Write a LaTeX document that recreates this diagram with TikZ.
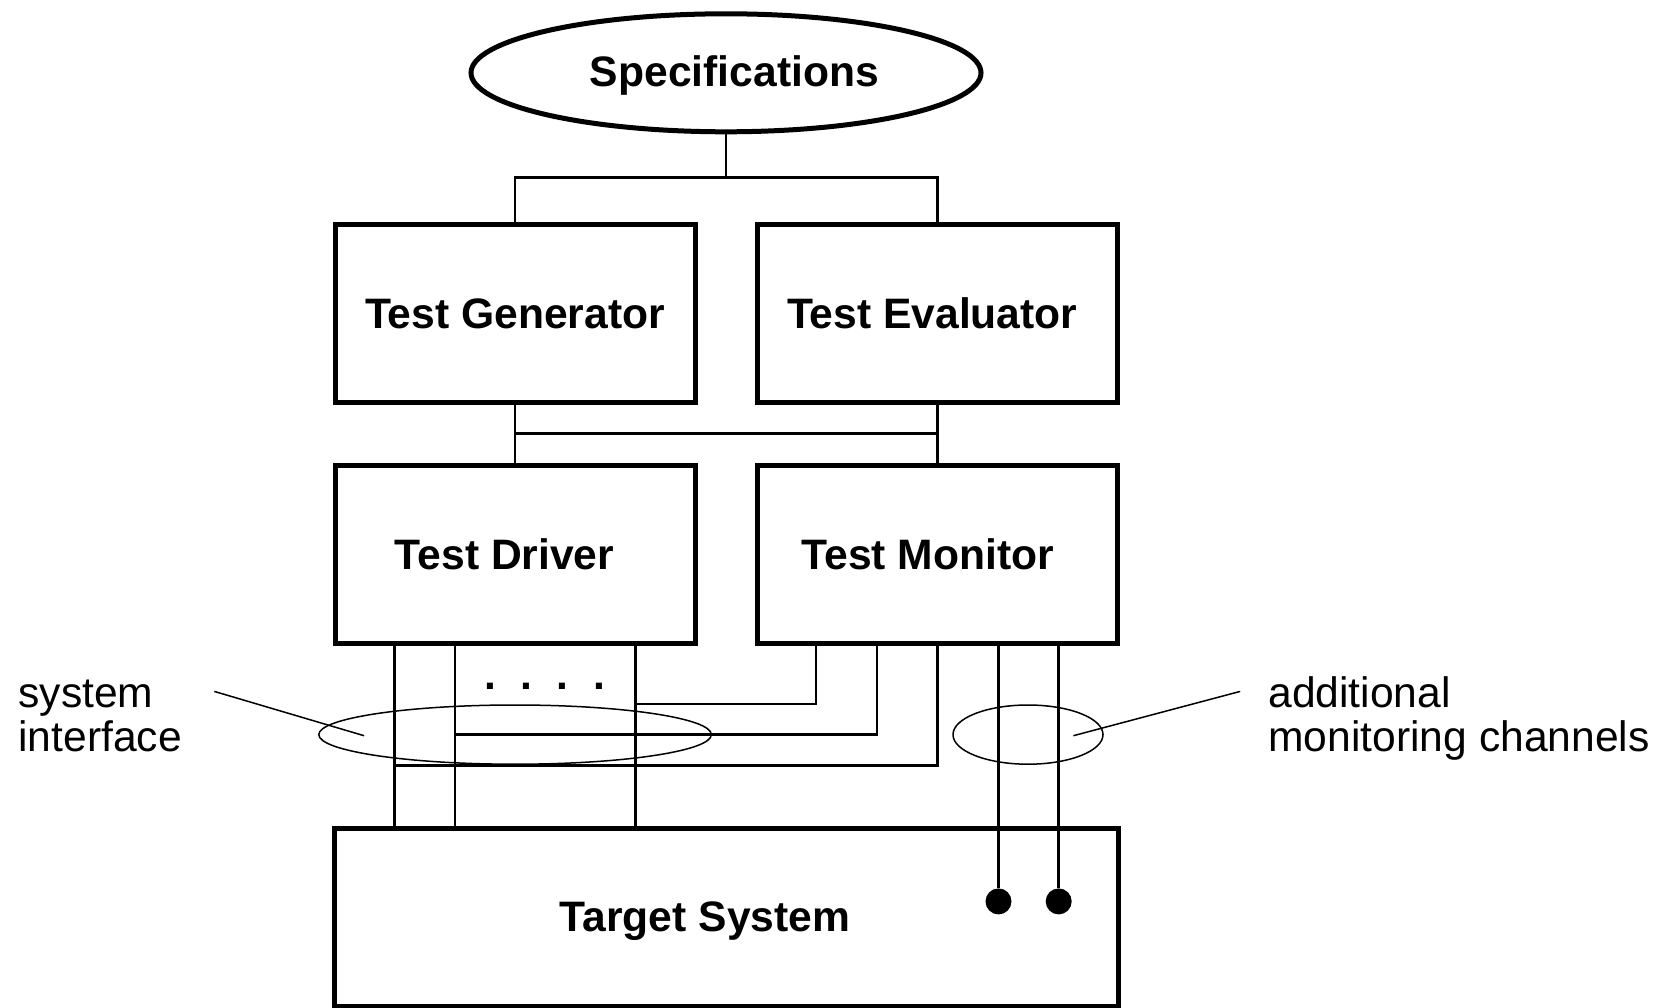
\documentclass[tikz,border=0pt]{standalone}
\usepackage{fontspec}
\setmainfont{Liberation Sans}
\usetikzlibrary{shapes.geometric}
\begin{document}
\begin{tikzpicture}[x=0.5pt,y=-0.5pt]
  \tikzstyle{block}=[draw,line width=2.5pt,minimum width=180pt,minimum height=89pt,inner sep=0pt,font=\fontsize{21.3}{21.3}\selectfont\bfseries]
  \tikzstyle{wire}=[line width=1.35pt]
  \tikzstyle{leader}=[line width=0.75pt]
  \tikzstyle{contact}=[circle,fill=black,minimum size=13pt,inner sep=0pt]
  \tikzstyle{note}=[align=left,anchor=west,inner sep=0pt,font=\fontsize{21.3}{22}\selectfont]
  \useasboundingbox (0,0) rectangle (1655,1007);

  \node[draw,ellipse,line width=2.5pt,minimum width=255pt,minimum height=59pt,inner sep=0pt,font=\fontsize{21.3}{21.3}\selectfont\bfseries] (S) at (726,72.8) {\kern8.4pt\raisebox{-1.5pt}[\height][\depth]{Specifications}};
  \node[block] (G) at (515,313.5) {Test Generator};
  \node[block] (E) at (937.3,313.5) {Test Evaluator\kern5pt};
  \node[block] (D) at (515,554.2) {Test Driver\kern10.5pt};
  \node[block] (M) at (937.3,554.2) {Test Monitor\kern9.5pt};
  \node[block,minimum width=392pt] (T) at (726,917) {\raisebox{-2pt}[\height][\depth]{Target System}\kern21pt};

  % buses between the blocks
  \coordinate (busT) at (0,177.3);
  \coordinate (busM) at (0,433.8);
  \draw[wire] (S.south) -- (S.south |- busT);
  \draw[wire] (G.north) |- (E.north |- busT) -- (E.north);
  \draw[wire] (G.south) -- (D.north);
  \draw[wire] (E.south) -- (M.north);
  \draw[wire] (G.south |- busM) -- (E.south |- busM);

  % system interface
  \foreach \x [count=\i] in {394.8,454.9,635.4}
    \coordinate (c\i) at (\x,0);
  \foreach \x [count=\i] in {815.9,877.1,998.5,1058.7}
    \coordinate (m\i) at (\x,0);
  \foreach \y [count=\i] in {704,734.6,765.2}
    \coordinate (r\i) at (0,\y);
  \foreach \i in {1,2,3}
    \draw[wire] (D.south -| c\i) -- (T.north -| c\i);
  \draw[wire] (M.south -| m1) |- (c3 |- r1);
  \draw[wire] (M.south -| m2) |- (c2 |- r2);
  \draw[wire] (M.south) |- (c1 |- r3);
  \node[inner sep=0pt,font=\fontsize{21.3}{21.3}\selectfont\bfseries] (dots) at (544.7,686)
    {.\hspace{12.2pt}.\hspace{12.2pt}.\hspace{12.2pt}.};

  % monitoring channels
  \node[contact] (P1) at (998.5,901.4) {};
  \node[contact] (P2) at (1058.7,901.4) {};
  \draw[wire] (M.south -| P1) -- (P1);
  \draw[wire] (M.south -| P2) -- (P2);

  % annotations
  \node[draw,ellipse,leader,minimum width=196.3pt,minimum height=29.6pt,inner sep=0pt] (SI) at (515.1,734.6) {};
  \node[draw,ellipse,leader,minimum width=75pt,minimum height=29.6pt,inner sep=0pt] (MC) at (1028,734.6) {};
  \node[note] (siL) at (18,716) {system\\interface};
  \node[note] (mcL) at (1268,718) {additional\\monitoring channels};
  \coordinate (siA) at (214.3,691.4);
  \coordinate (siB) at (364.1,735.7);
  \coordinate (mcA) at (1240.2,691.4);
  \coordinate (mcB) at (1073.4,735.7);
  \draw[leader] (siA) -- (siB);
  \draw[leader] (mcA) -- (mcB);
\end{tikzpicture}
\end{document}
